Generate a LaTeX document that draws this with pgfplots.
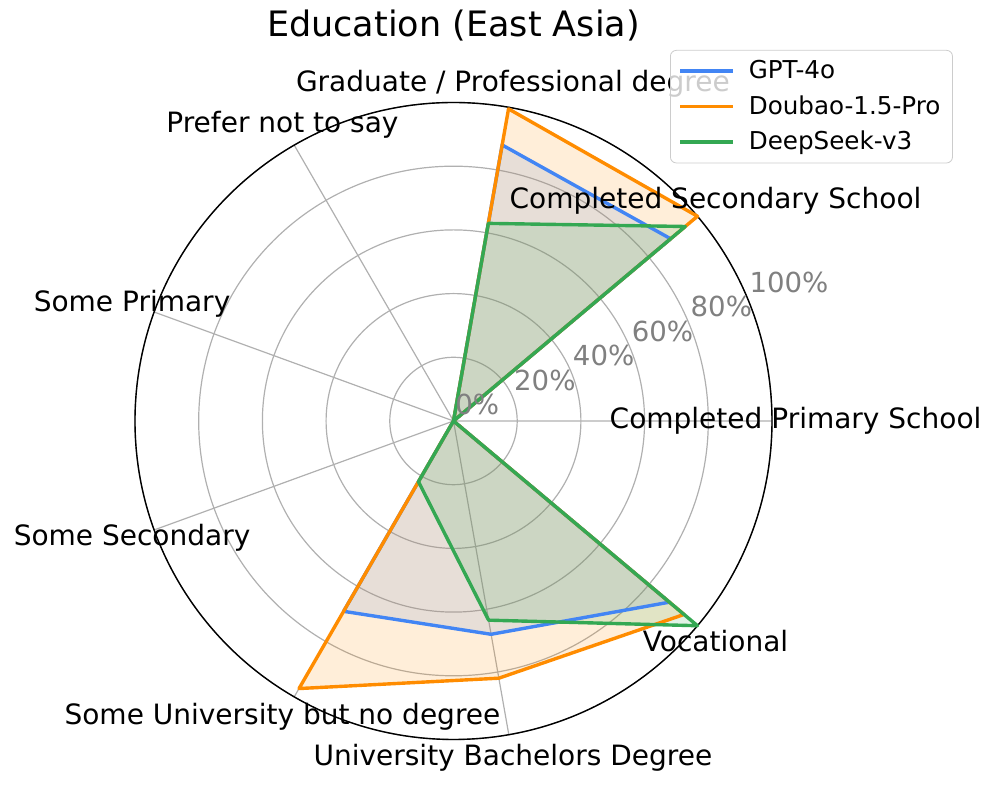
\documentclass[border=0pt]{standalone}
\usepackage{fontspec}
\setmainfont{DejaVu Sans}
\usepackage{pgfplots}
\usepackage{pgfplotstable}
\pgfplotsset{compat=1.18}
\usepgfplotslibrary{polar}

\definecolor{gptblue}{HTML}{4285F4}
\definecolor{dborange}{HTML}{FF8C00}
\definecolor{dsgreen}{HTML}{34A853}
\definecolor{gridgray}{HTML}{B0B0B0}

% angles: 0 Completed Primary, 40 Completed Secondary, 80 Graduate, 120 Prefer not,
% 160 Some Primary, 200 Some Secondary, 240 Some University, 280 Bachelors, 320 Vocational
\pgfplotstableread{
angle gpt doubao deepseek
0     0    0     0
40    89   100   95
80    88   99.5  63
120   0    0     0
160   0    0     0
200   0    0     0
240   69   97    22
280   68   82    63.5
320   88.5 94.5  100
360   0    0     0
}\edudata

\begin{document}
\begin{tikzpicture}
\begin{polaraxis}[
  scale only axis, width=318.5pt, height=318.5pt,
  ymin=0, ymax=100,
  xtick={0,40,...,320}, xticklabels={},
  ytick={0,20,...,100}, yticklabels={},
  grid=major,
  major grid style={gridgray, line width=0.6pt},
  major tick length=0pt,
  axis line style={black, line width=0.7pt},
  y axis line style={draw=none},
  clip=false,
  every axis plot/.append style={line width=1.7pt, line join=round},
  legend image code/.code={\draw[#1] (0pt,0pt) -- (26.5pt,0pt);},
  legend style={at={(1.284,1.0825)}, anchor=north east,
    draw=black!20, rounded corners=3pt, fill=white, fill opacity=0.8, text opacity=1,
    font=\fontsize{12.3}{14.8}\selectfont, inner xsep=4pt, inner ysep=3pt,
    row sep=3pt, cells={anchor=west},
    /tikz/every odd column/.append style={column sep=5pt}},
]
% fills first (below all lines)
\addplot[draw=none, fill=gptblue, fill opacity=0.15, forget plot] table[x=angle, y=gpt] {\edudata};
\addplot[draw=none, fill=dborange, fill opacity=0.15, forget plot] table[x=angle, y=doubao] {\edudata};
\addplot[draw=none, fill=dsgreen, fill opacity=0.15, forget plot] table[x=angle, y=deepseek] {\edudata};

\addplot[gptblue] table[x=angle, y=gpt] {\edudata};
\addlegendentry{GPT-4o}
\addplot[dborange] table[x=angle, y=doubao] {\edudata};
\addlegendentry{Doubao-1.5-Pro}
\addplot[dsgreen] table[x=angle, y=deepseek] {\edudata};
\addlegendentry{DeepSeek-v3}

\coordinate (C) at (axis cs:0,0);
\pgfplotsinvokeforeach{0,20,40,60,80,100}{
  \node[anchor=base west, text=gray, inner sep=0pt, xshift=0.7pt, yshift=3.25pt,
    font=\fontsize{13.8}{16}\selectfont] at (axis cs:22.5,#1) {#1\%};
}
\begin{scope}[every node/.style={font=\fontsize{14}{16.8}\selectfont, inner sep=0pt}]
\node at (axis cs:0,107.4) {Completed Primary School};
\node at (axis cs:40,107.4) {Completed Secondary School};
\node at (axis cs:80,107.4) {Graduate / Professional degree};
\node at (axis cs:120,107.4) {Prefer not to say};
\node at (axis cs:160,107.4) {Some Primary};
\node at (axis cs:200,107.4) {Some Secondary};
\node at (axis cs:240,107.4) {Some University but no degree};
\node at (axis cs:280,107.4) {University Bachelors Degree};
\node at (axis cs:320,107.4) {Vocational};
\end{scope}
\node[font=\fontsize{17.5}{21}\selectfont, yshift=38.25pt] at (axis cs:90,100) {Education (East Asia)};
\end{polaraxis}
\pgfresetboundingbox
\path[use as bounding box] (C) ++(-226.75pt,210.5pt) rectangle ++(498.5pt,-392.5pt);
\end{tikzpicture}
\end{document}
